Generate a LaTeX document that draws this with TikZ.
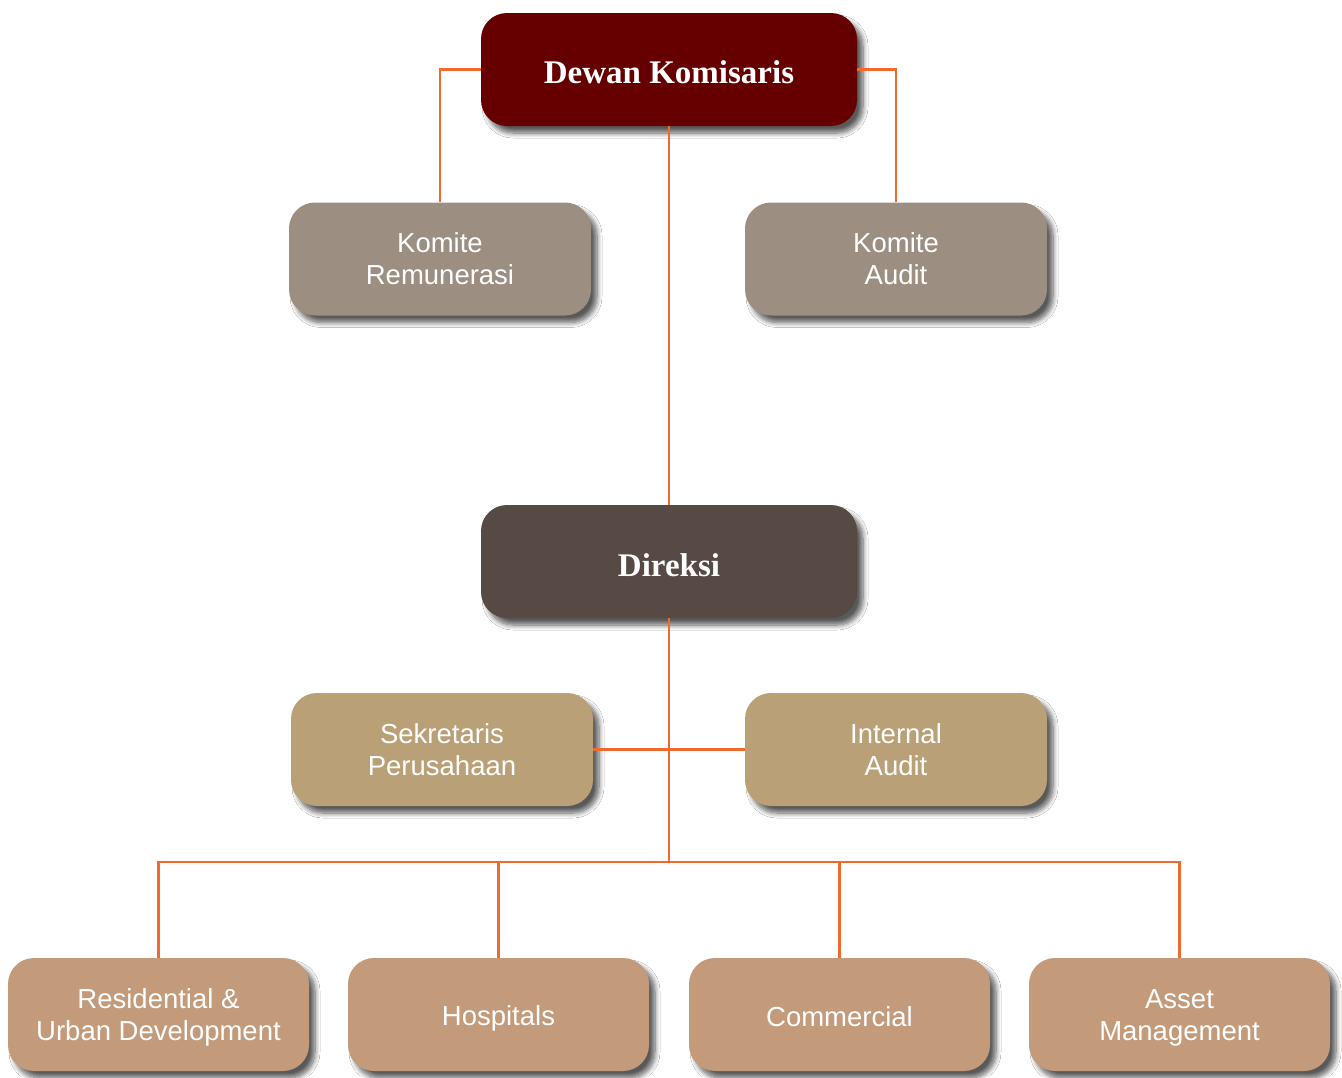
\documentclass[tikz,border=0pt]{standalone}
\usepackage{fontspec}
\setmainfont{Liberation Serif}
\setsansfont{Liberation Sans}
\usetikzlibrary{shadows.blur}
\definecolor{cDewan}{HTML}{660000}
\definecolor{cKomite}{HTML}{9C8E80}
\definecolor{cDir}{HTML}{574943}
\definecolor{cSek}{HTML}{B9A077}
\definecolor{cBot}{HTML}{C39A7A}
\definecolor{cLine}{HTML}{F06A2E}
\newcommand{\tstrut}[1]{\rule{0pt}{#1}}
\tikzset{
  box/.style={rounded corners=26pt, minimum height=113pt, inner sep=0pt, align=center,
    text=white, font=\sffamily\fontsize{27.5}{32}\selectfont,
    blur shadow={shadow xshift=6pt, shadow yshift=-7pt, shadow blur radius=5pt, shadow blur steps=8, shadow opacity=65}},
  topbox/.style={box, minimum width=376pt, font=\rmfamily\bfseries\fontsize{33}{36}\selectfont},
  midbox/.style={box, minimum width=302pt},
  botbox/.style={box, minimum width=301pt, fill=cBot},
  conn/.style={draw=cLine, line width=2.2pt}
}
\begin{document}
\begin{tikzpicture}[x=1pt,y=-1pt]
\useasboundingbox (0,0) rectangle (1342,1077);
\fill[white] (0,0) rectangle (1342,1077);
\node[topbox, fill=cDewan] (dk) at (669,69.5) {\tstrut{28.5pt}Dewan Komisaris};
\node[midbox, fill=cKomite] (kr) at (440,259) {Komite\\Remunerasi};
\node[midbox, fill=cKomite] (ka) at (896,259) {Komite\\Audit};
\node[topbox, fill=cDir] (dir) at (669,561.5) {\tstrut{30.5pt}Direksi};
\node[midbox, fill=cSek] (sek) at (442,749.5) {Sekretaris\\Perusahaan};
\node[midbox, fill=cSek] (ia) at (896,749.5) {Internal\\Audit};
\node[botbox] (b1) at (158.5,1014.5) {\tstrut{26pt}Residential \&\\Urban Development};
\node[botbox] (b2) at (498.5,1014.5) {\tstrut{28pt}Hospitals};
\node[botbox] (b3) at (839.5,1014.5) {\tstrut{24pt}Commercial};
\node[botbox] (b4) at (1179.5,1014.5) {\tstrut{26pt}Asset\\Management};
\coordinate (bus) at (669,862);
\draw[conn] (dk.west) -| (kr.north);
\draw[conn] (dk.east) -| (ka.north);
\draw[conn] (dk.south) -- (dir.north);
\draw[conn] (dir.south) -- (bus);
\draw[conn] (sek.east) -- (ia.west);
\draw[conn] (b1.north) |- (bus) -| (b4.north);
\draw[conn] (b2.north) -- (b2.north |- bus);
\draw[conn] (b3.north) -- (b3.north |- bus);
\end{tikzpicture}
\end{document}
